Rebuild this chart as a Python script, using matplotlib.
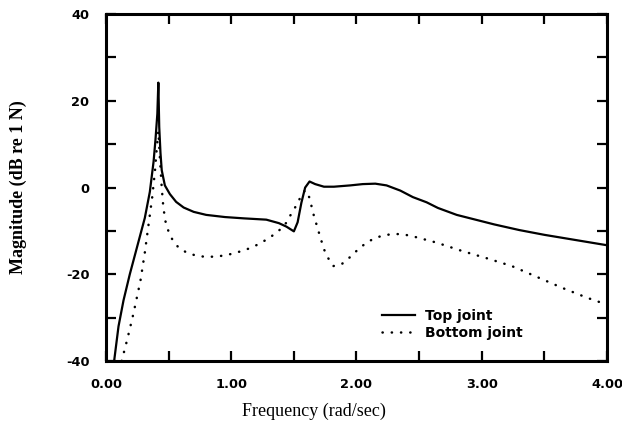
import matplotlib
matplotlib.use("Agg")
import matplotlib.pyplot as plt
from matplotlib.ticker import MultipleLocator

# Frequency response of the two joints (magnitude in dB re 1 N)
top_freq = [0.065, 0.10, 0.14, 0.19, 0.25, 0.31, 0.35, 0.38, 0.395, 0.41, 0.418,
            0.425, 0.435, 0.445, 0.47, 0.51, 0.56, 0.62, 0.70, 0.80, 0.95, 1.10,
            1.28, 1.38, 1.44, 1.50, 1.53, 1.56, 1.59, 1.625, 1.67, 1.74, 1.82,
            1.95, 2.05, 2.15, 2.24, 2.35, 2.45, 2.56, 2.65, 2.80, 2.95, 3.10,
            3.30, 3.50, 3.75, 4.00]
top_db = [-40, -32, -26, -20, -13.5, -7, -1, 6, 11, 17, 24.2,
          14, 8, 4, 0.5, -1.5, -3.3, -4.6, -5.6, -6.3, -6.8, -7.1,
          -7.4, -8.2, -9.0, -10.1, -8, -3.5, 0, 1.4, 0.8, 0.2, 0.2,
          0.5, 0.8, 0.9, 0.5, -0.7, -2.2, -3.4, -4.7, -6.3, -7.4, -8.5,
          -9.8, -10.9, -12.1, -13.3]

bottom_freq = [0.125, 0.17, 0.218, 0.275, 0.31, 0.34, 0.37, 0.391, 0.405, 0.418,
               0.43, 0.445, 0.458, 0.475, 0.498, 0.53, 0.578, 0.644, 0.72, 0.80,
               0.88, 0.96, 1.04, 1.11, 1.18, 1.24, 1.31, 1.385, 1.44, 1.48, 1.52,
               1.555, 1.59, 1.624, 1.656, 1.70, 1.74, 1.77, 1.815, 1.88, 1.95,
               2.015, 2.08, 2.15, 2.22, 2.295, 2.36, 2.43, 2.51, 2.64, 2.84, 3.04,
               3.24, 3.44, 3.64, 3.84, 4.00]
bottom_db = [-40, -35, -29.2, -21.5, -15, -8.5, -2, 3.85, 9, 13,
             7, 0, -4.6, -7.8, -10, -12, -13.8, -15, -15.7, -16,
             -15.9, -15.6, -15, -14.4, -13.6, -12.7, -11.5, -9.8, -8.1, -6, -4.1,
             -2.1, -0.6, -2.3, -6.1, -10.4, -14.2, -16.1, -18.1, -17.7, -16,
             -14.2, -12.7, -11.6, -11.0, -10.7, -10.75, -11.1, -11.7, -12.7, -14.6, -16.3,
             -18.1, -20.6, -23.1, -25.4, -27]

x_ticks = [0, 1, 2, 3, 4]
x_tick_labels = ["0.00", "1.00", "2.00", "3.00", "4.00"]
y_ticks = [-40, -20, 0, 20, 40]
y_tick_labels = ["-40", "-20", "0", "20", "40"]

fig = plt.figure(figsize=(6.22, 4.28), dpi=100)
ax = fig.add_axes([0.1704, 0.1565, 0.8055, 0.8105])

ax.plot(top_freq, top_db, color="black", lw=1.6, solid_joinstyle="round",
        label="Top joint")
ax.plot(bottom_freq, bottom_db, color="black", lw=1.8,
        linestyle=(0, (0.1, 3.6)), dash_capstyle="round",
        label="Bottom joint")

ax.set_xlim(0, 4)
ax.set_ylim(-40, 40)

tick_font = dict(family="DejaVu Sans", weight="bold", size=9.3)
ax.set_xticks(x_ticks)
ax.set_xticklabels(x_tick_labels, **tick_font)
ax.set_yticks(y_ticks)
ax.set_yticklabels(y_tick_labels, **tick_font)
ax.xaxis.set_minor_locator(MultipleLocator(0.5))
ax.yaxis.set_minor_locator(MultipleLocator(10))

ax.tick_params(which="both", direction="in", top=True, right=True,
               length=7, width=1.6, color="black")
ax.tick_params(axis="x", which="major", pad=12)
ax.tick_params(axis="y", which="major", pad=12)

for side in ax.spines.values():
    side.set_linewidth(2.2)

ax.set_xlabel("Frequency (rad/sec)", family="Liberation Serif", size=13)
ax.xaxis.set_label_coords(0.415, -0.12)
ax.set_ylabel("Magnitude (dB re 1 N)", family="Liberation Serif", size=13,
              weight="bold")
ax.yaxis.set_label_coords(-0.157, 0.5)

leg = ax.legend(loc="upper left", bbox_to_anchor=(0.551, 0.15), frameon=False,
                prop=dict(family="DejaVu Sans", weight="bold", size=10),
                handlelength=2.4, handletextpad=0.7, labelspacing=0.2,
                borderpad=0, borderaxespad=0)

fig.savefig("out.png", dpi=100)
